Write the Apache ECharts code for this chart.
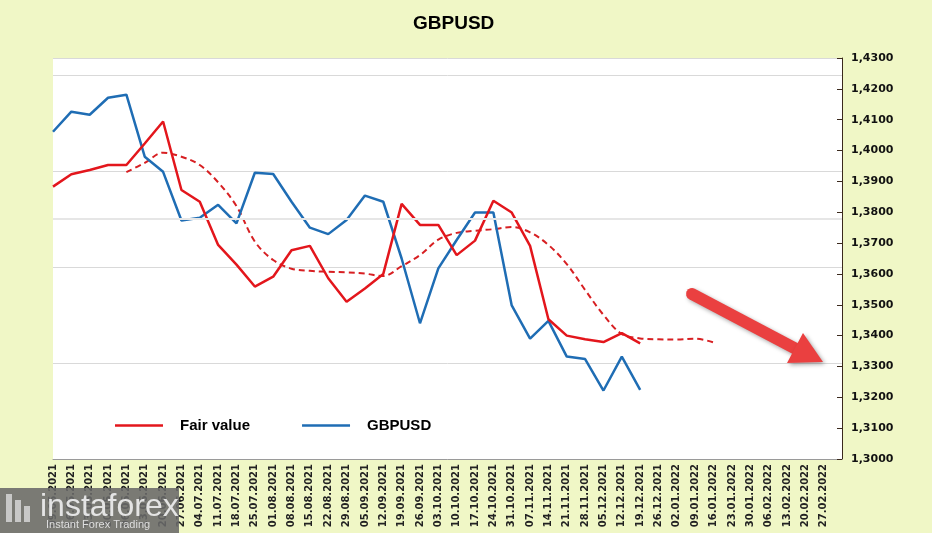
<!DOCTYPE html>
<html>
<head>
<meta charset="utf-8">
<script src="https://cdn.jsdelivr.net/npm/echarts@6/dist/echarts.min.js"></script>
<style>
  html, body { margin: 0; padding: 0; background: #f0f7c6; }
  #chart { width: 932px; height: 533px; }
</style>
</head>
<body>
<div id="chart"></div>
<script>
// ---- data ----
const categories = [
  '09.05.2021','16.05.2021','23.05.2021','30.05.2021','06.06.2021','13.06.2021','20.06.2021',
  '27.06.2021','04.07.2021','11.07.2021','18.07.2021','25.07.2021','01.08.2021','08.08.2021',
  '15.08.2021','22.08.2021','29.08.2021','05.09.2021','12.09.2021','19.09.2021','26.09.2021',
  '03.10.2021','10.10.2021','17.10.2021','24.10.2021','31.10.2021','07.11.2021','14.11.2021',
  '21.11.2021','28.11.2021','05.12.2021','12.12.2021','19.12.2021','26.12.2021','02.01.2022',
  '09.01.2022','16.01.2022','23.01.2022','30.01.2022','06.02.2022','13.02.2022','20.02.2022',
  '27.02.2022',''
];

const fairValue = [
  1.3883, 1.3923, 1.3937, 1.3953, 1.3953, 1.4023, 1.4094, 1.3872, 1.3834, 1.3694,
  1.3630, 1.3559, 1.3591, 1.3677, 1.3691, 1.3586, 1.3510, 1.3553, 1.3600, 1.3827,
  1.3759, 1.3759, 1.3661, 1.3708, 1.3837, 1.3799, 1.3691, 1.3453, 1.3400, 1.3388,
  1.3379, 1.3408, 1.3375
];

const gbpusd = [
  1.4061, 1.4126, 1.4116, 1.4171, 1.4181, 1.3980, 1.3931, 1.3773, 1.3782, 1.3824,
  1.3764, 1.3928, 1.3924, 1.3834, 1.3750, 1.3729, 1.3775, 1.3854, 1.3834, 1.3650,
  1.3440, 1.3618, 1.3710, 1.3799, 1.3799, 1.3498, 1.3390, 1.3448, 1.3332, 1.3324,
  1.3222, 1.3332, 1.3224
];

const fairTrend = [
  null, null, null, null,
  1.3930, 1.3960, 1.3993, 1.3980, 1.3953, 1.3897, 1.3820, 1.3705, 1.3645, 1.3617,
  1.3610, 1.3607, 1.3605, 1.3601, 1.3593, 1.3625, 1.3661, 1.3711, 1.3733, 1.3740,
  1.3745, 1.3752, 1.3735, 1.3694, 1.3632, 1.3548, 1.3467, 1.3405, 1.3391, 1.3388,
  1.3387, 1.3390, 1.3378
];

const yMin = 1.30, yMax = 1.43, yStep = 0.01;
// hidden primary-axis gridlines of the original chart
const gridMax = 4.18;
const gridLevels = [2.5];

const RED = '#e3161c';
const RED_DASH = '#d71f22';
const BLUE = '#1f6db4';

const chart = echarts.init(document.getElementById('chart'), null, { renderer: 'canvas' });

const option = {
  animation: false,
  backgroundColor: '#f0f7c6',
  title: {
    text: 'GBPUSD',
    left: 408, top: 9,
    textStyle: { fontFamily: 'Liberation Sans', fontWeight: 'bold', fontSize: 19, color: '#000' }
  },
  legend: {
    data: ['Fair value', 'GBPUSD'],
    left: 110, top: 413,
    icon: 'rect',
    itemWidth: 48, itemHeight: 2.5,
    itemGap: 52,
    textStyle: { fontFamily: 'Liberation Sans', fontWeight: 'bold', fontSize: 15, color: '#000', padding: [0, 0, 0, 12] }
  },
  grid: {
    left: 53, right: 90, top: 58, bottom: 74,
    containLabel: false,
    show: true, backgroundColor: '#ffffff', borderWidth: 0
  },
  xAxis: {
    type: 'category',
    data: categories,
    boundaryGap: false,
    axisLine: { show: true, lineStyle: { color: '#9a9a9a', width: 1 } },
    axisTick: { show: false },
    axisLabel: {
      interval: 0, rotate: 90, margin: 5,
      fontFamily: 'DejaVu Sans', fontWeight: 'bold', fontSize: 10, color: '#222'
    },
    splitLine: { show: false }
  },
  yAxis: [
    {
      type: 'value',
      position: 'right',
      min: yMin, max: yMax, interval: yStep,
      axisLine: { show: true, lineStyle: { color: '#3b2a1d', width: 1 } },
      axisTick: { show: true, inside: true, length: 5, lineStyle: { color: '#3b2a1d' } },
      axisLabel: {
        margin: 9,
        fontFamily: 'DejaVu Sans', fontWeight: 'bold', fontSize: 11, color: '#111',
        formatter: v => v.toFixed(4).replace('.', ',')
      },
      splitLine: { show: false }
    },
    {
      type: 'value',
      position: 'left',
      min: 0, max: gridMax, interval: 1,
      axisLine: { show: false }, axisTick: { show: false }, axisLabel: { show: false },
      splitLine: { show: true, lineStyle: { color: '#d9d9d9', width: 1 } }
    }
  ],
  series: [
    {
      name: 'grid-extra', type: 'line', yAxisIndex: 1, data: [], silent: true,
      markLine: {
        silent: true, symbol: 'none', label: { show: false },
        lineStyle: { color: '#e6e6e6', width: 2, type: 'solid' },
        data: gridLevels.map(v => ({ yAxis: v }))
      }
    },
    {
      name: 'Fair value', type: 'line', yAxisIndex: 0, data: fairValue,
      showSymbol: false, symbol: 'none',
      lineStyle: { color: RED, width: 2.5 }, itemStyle: { color: RED }, z: 4
    },
    {
      name: 'GBPUSD', type: 'line', yAxisIndex: 0, data: gbpusd,
      showSymbol: false, symbol: 'none',
      lineStyle: { color: BLUE, width: 2.5 }, itemStyle: { color: BLUE }, z: 3
    },
    {
      name: 'Fair value trend', type: 'line', yAxisIndex: 0, data: fairTrend,
      showSymbol: false, symbol: 'none', smooth: 0.35, connectNulls: false,
      lineStyle: { color: RED_DASH, width: 2, type: [6, 4] }, itemStyle: { color: RED_DASH }, z: 2
    }
  ],
  graphic: [
    // trend arrow annotation
    {
      type: 'line', z: 100,
      shape: { x1: 692, y1: 294, x2: 798, y2: 350 },
      style: {
        stroke: '#ea4040', lineWidth: 12, lineCap: 'round',
        shadowBlur: 4, shadowColor: 'rgba(0,0,0,0.35)', shadowOffsetX: 2, shadowOffsetY: 2
      }
    },
    {
      type: 'polygon', z: 100,
      shape: { points: [[803, 333], [823, 362], [787, 363]] },
      style: {
        fill: '#ea4040',
        shadowBlur: 4, shadowColor: 'rgba(0,0,0,0.35)', shadowOffsetX: 2, shadowOffsetY: 2
      }
    },
    // watermark
    { type: 'rect', z: 200, shape: { x: 0, y: 488, width: 179, height: 45 },
      style: { fill: 'rgba(105,105,105,0.88)' } },
    { type: 'rect', z: 201, shape: { x: 6, y: 494, width: 6, height: 28 },
      style: { fill: 'rgba(220,220,220,0.8)' } },
    { type: 'rect', z: 201, shape: { x: 15, y: 500, width: 6, height: 22 },
      style: { fill: 'rgba(220,220,220,0.8)' } },
    { type: 'rect', z: 201, shape: { x: 24, y: 506, width: 6, height: 16 },
      style: { fill: 'rgba(220,220,220,0.8)' } },
    { type: 'text', z: 201, x: 40, y: 491,
      style: { text: 'instaforex', font: 'normal 32px "Liberation Sans Narrow", "Liberation Sans"', fill: '#e4e4e4' } },
    { type: 'text', z: 201, x: 46, y: 519,
      style: { text: 'Instant Forex Trading', font: 'normal 11px "Liberation Sans"', fill: '#dedede' } }
  ]
};

chart.setOption(option);
</script>
</body>
</html>
